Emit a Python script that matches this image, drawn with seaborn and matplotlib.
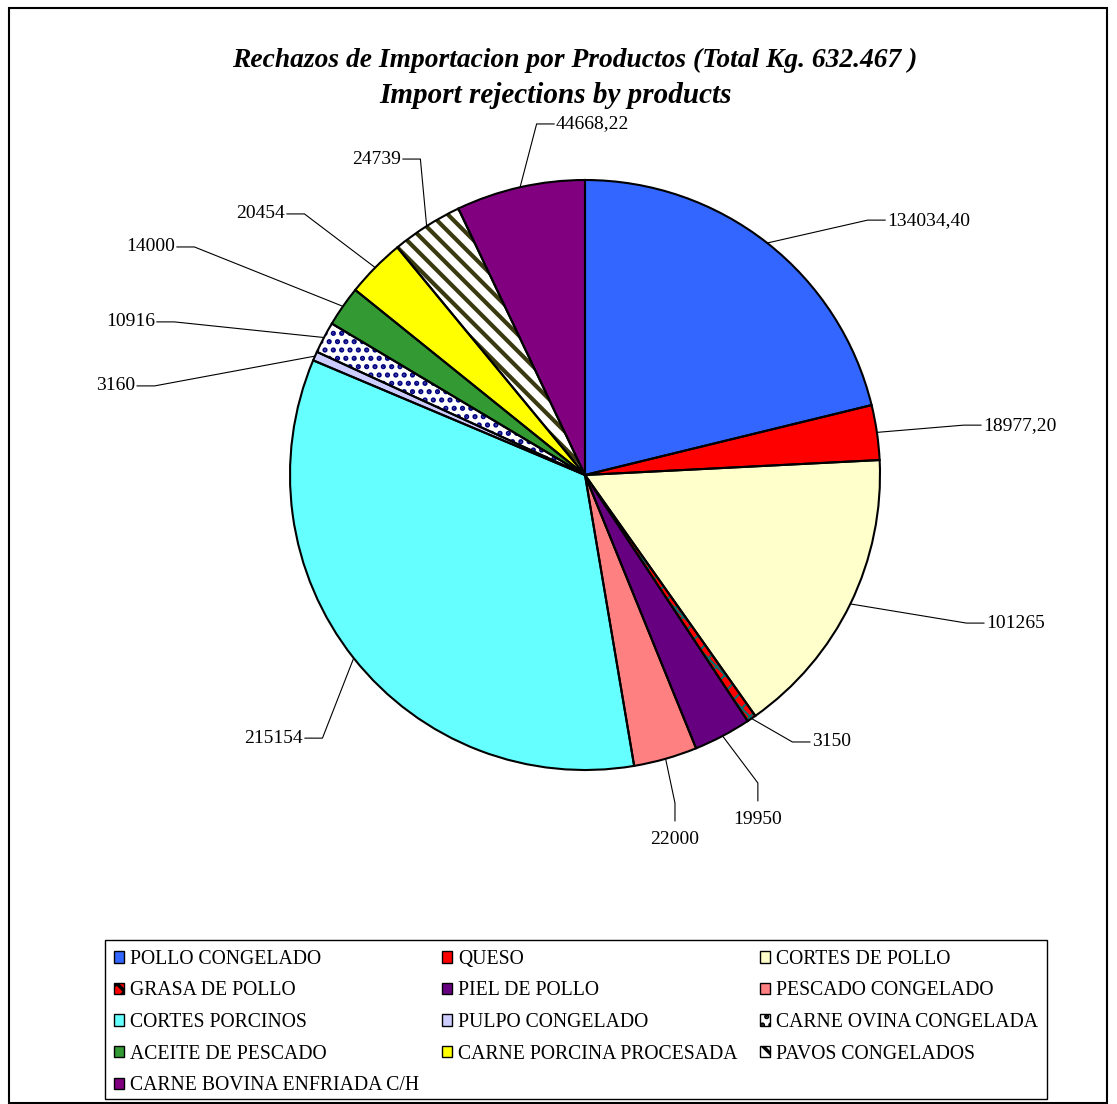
import matplotlib
matplotlib.use("Agg")
import matplotlib.pyplot as plt
import matplotlib.patches as mpatches
import numpy as np
import seaborn as sns

# data
productos = ["POLLO CONGELADO", "QUESO", "CORTES DE POLLO", "GRASA DE POLLO",
             "PIEL DE POLLO", "PESCADO CONGELADO", "CORTES PORCINOS",
             "PULPO CONGELADO", "CARNE OVINA CONGELADA", "ACEITE DE PESCADO",
             "CARNE PORCINA PROCESADA", "PAVOS CONGELADOS",
             "CARNE BOVINA ENFRIADA C/H"]
kilos = [134034.40, 18977.20, 101265, 3150, 19950, 22000, 215154,
         3160, 10916, 14000, 20454, 24739, 44668.22]

colores = ["#3366FF", "#FF0000", "#FFFFCC", "#FF0000", "#660080", "#FF8080",
           "#66FFFF", "#CCCCFF", "#FFFFFF", "#339933", "#FFFF00", "#FFFFFF",
           "#800080"]
tramas = [None, None, None, "xx", None, None, None, None, "..", None, None,
          "\\\\", None]
color_trama = [None, None, None, "#007070", None, None, None, None, "#000080",
               None, None, "#3A3A10", None]
grosor_trama = [None, None, None, 1.5, None, None, None, None, 2.5, None, None,
                3.0, None]

# label text positions (pie radius = 1) and alignment
pos_etiq = [(1.024, 0.864, "left"), (1.349, 0.169, "left"),
            (1.359, -0.502, "left"), (0.769, -0.905, "left"),
            (0.586, -1.169, "center"), (0.305, -1.237, "center"),
            (-0.956, -0.892, "right"), (-1.525, 0.302, "right"),
            (-1.458, 0.519, "right"), (-1.390, 0.773, "right"),
            (-1.017, 0.885, "right"), (-0.624, 1.071, "right"),
            (-0.098, 1.190, "left")]


def fmt(v):
    if float(v).is_integer():
        return str(int(v))
    return f"{v:.2f}".replace(".", ",")


sns.set_style("white")
plt.rcParams["font.family"] = ["Liberation Serif", "DejaVu Serif"]
plt.rcParams["text.color"] = "black"
plt.rcParams["hatch.linewidth"] = 2.5

W, H = 1117, 1104
fig = plt.figure(figsize=(W / 100, H / 100), dpi=100)
ax = fig.add_axes([0, 0, 1, 1])

# fills + hatches
wedges, _ = ax.pie(kilos, colors=colores, startangle=90, counterclock=False,
                   wedgeprops=dict(linewidth=0))
for w, t, hc, lw in zip(wedges, tramas, color_trama, grosor_trama):
    if t:
        w.set_hatch(t)
        w.set_edgecolor(hc)
        w.set_linewidth(0)
        if hasattr(w, "set_hatch_linewidth"):
            w.set_hatch_linewidth(lw)

# black outlines on top
ax.pie(kilos, colors=["none"] * len(kilos), startangle=90, counterclock=False,
       wedgeprops=dict(linewidth=1.5, edgecolor="black", fill=False))

# value labels with leader lines
gap, stub = 0.006, 0.06
for w, v, (tx, ty, ha) in zip(wedges, kilos, pos_etiq):
    ang = np.deg2rad((w.theta1 + w.theta2) / 2)
    x0, y0 = np.cos(ang), np.sin(ang)
    if ha == "left":
        pts = [(x0, y0), (tx - gap - stub, ty), (tx - gap, ty)]
    elif ha == "right":
        pts = [(x0, y0), (tx + gap + stub, ty), (tx + gap, ty)]
    else:
        pts = [(x0, y0), (tx, ty + 0.125), (tx, ty + 0.064)]
    xs, ys = zip(*pts)
    ax.plot(xs, ys, color="black", lw=0.8)
    ax.text(tx, ty, fmt(v), ha=ha, va="center", fontsize=14)

ax.set_xlim(-585 / 295, (W - 585) / 295)
ax.set_ylim(-(H - 475) / 295, 475 / 295)
ax.set_aspect("auto")
ax.axis("off")

# title
fig.text(575 / W, 1 - 60 / H,
         "Rechazos de Importacion por Productos (Total Kg. 632.467 )",
         ha="center", va="center", fontsize=19.8, fontweight="bold",
         fontstyle="italic")
fig.text(556 / W, 1 - 96 / H, "Import rejections by products",
         ha="center", va="center", fontsize=21, fontweight="bold",
         fontstyle="italic")

# legend (row-major order with 3 columns), frame drawn separately
handles = []
for c, t, hc in zip(colores, tramas, color_trama):
    handles.append(mpatches.Patch(facecolor=c, edgecolor="black", lw=1.0,
                                  hatch=t))
orden = [0, 3, 6, 9, 12, 1, 4, 7, 10, 2, 5, 8, 11]
leg = fig.legend([handles[i] for i in orden], [productos[i] for i in orden],
                 ncol=3, loc="upper left",
                 bbox_to_anchor=(105 / W, 6 / H, 942 / W, 1 - 941 / H - 6 / H),
                 mode="expand", fontsize=14.2, frameon=False,
                 handlelength=0.52, handleheight=0.52,
                 handletextpad=0.3, labelspacing=0.64, borderaxespad=0,
                 borderpad=0.45, columnspacing=1.0)

fig.patches.append(mpatches.Rectangle((105 / W, 1 - 1099 / H), 942 / W,
                                      159 / H, transform=fig.transFigure,
                                      fill=False, edgecolor="black", lw=1.0))

# outer border
fig.patches.append(mpatches.Rectangle((9 / W, 0.001), (W - 10) / W - 9 / W,
                                      1 - 8 / H - 0.001,
                                      transform=fig.transFigure, fill=False,
                                      edgecolor="black", lw=1.5))

fig.savefig("out.png", dpi=100)
